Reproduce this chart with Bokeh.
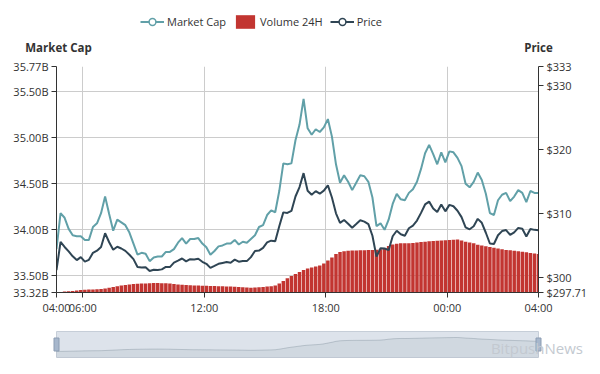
from bokeh.plotting import figure
from bokeh.models import (Range1d, LinearAxis, FixedTicker, CustomJSTickFormatter,
                          Legend, LegendItem, Label, ColumnDataSource)
from bokeh.layouts import column
from bokeh.embed import file_html
from bokeh.resources import INLINE

# ---- data ----
# time stamps: hours of day, 12-minute steps from 04:42 to 04:30 next day
START_H = 4.7
STEP_H = 0.2
hours = [round(START_H + STEP_H * i, 2) for i in range(120)]

market_cap_b = [
    33.79, 34.18, 34.13, 34.01, 33.94, 33.93, 33.93, 33.89, 33.89, 34.03,
    34.07, 34.18, 34.36, 34.17, 33.99, 34.11, 34.08, 34.05, 33.97, 33.85,
    33.73, 33.75, 33.74, 33.66, 33.70, 33.71, 33.71, 33.76, 33.76, 33.79,
    33.86, 33.91, 33.85, 33.90, 33.90, 33.91, 33.85, 33.81, 33.73, 33.77,
    33.82, 33.83, 33.85, 33.85, 33.89, 33.84, 33.87, 33.86, 33.90, 33.94,
    34.03, 34.05, 34.16, 34.21, 34.19, 34.42, 34.72, 34.71, 34.72, 34.97,
    35.14, 35.42, 35.10, 35.03, 35.09, 35.06, 35.11, 35.20, 35.01, 34.71,
    34.51, 34.59, 34.52, 34.43, 34.51, 34.59, 34.58, 34.52, 34.35, 34.04,
    34.07, 34.00, 34.11, 34.28, 34.39, 34.33, 34.32, 34.40, 34.44, 34.52,
    34.66, 34.83, 34.92, 34.82, 34.71, 34.84, 34.73, 34.85, 34.84, 34.78,
    34.69, 34.50, 34.46, 34.52, 34.62, 34.54, 34.39, 34.18, 34.16, 34.32,
    34.38, 34.40, 34.31, 34.36, 34.43, 34.40, 34.30, 34.42, 34.40, 34.40,
]

price_usd = [
    301.21, 305.61, 304.82, 304.12, 303.36, 302.77, 303.23, 302.53, 302.81, 303.90,
    304.24, 304.82, 306.96, 305.56, 304.38, 304.85, 304.58, 304.21, 303.61, 302.92,
    301.68, 301.62, 301.65, 301.06, 301.25, 301.21, 301.32, 301.71, 301.68, 302.38,
    302.69, 303.02, 302.57, 302.92, 302.88, 302.98, 302.50, 302.19, 301.56, 301.87,
    302.19, 302.33, 302.46, 302.36, 302.84, 302.52, 302.63, 302.61, 303.23, 304.20,
    304.26, 304.69, 305.53, 305.80, 305.72, 308.05, 310.22, 310.13, 310.45, 312.70,
    314.18, 316.35, 313.59, 312.97, 313.54, 313.14, 313.61, 314.44, 312.55, 310.07,
    308.59, 309.04, 308.45, 307.81, 308.39, 308.98, 308.78, 308.39, 306.57, 303.31,
    304.63, 304.58, 304.32, 306.49, 307.35, 306.80, 306.57, 307.74, 308.16, 308.95,
    310.14, 311.46, 311.90, 310.84, 310.27, 311.46, 310.38, 311.39, 311.18, 310.48,
    309.48, 307.89, 307.58, 308.05, 309.21, 308.59, 307.04, 305.36, 305.28, 306.65,
    307.30, 307.46, 306.70, 307.11, 307.80, 307.67, 306.46, 307.64, 307.49, 307.43,
]

volume_24h_b = [
    0.06, 0.12, 0.20, 0.26, 0.32, 0.40, 0.48, 0.54, 0.58, 0.62,
    0.64, 0.68, 0.80, 0.96, 1.10, 1.24, 1.38, 1.50, 1.60, 1.68,
    1.74, 1.78, 1.82, 1.86, 1.88, 1.88, 1.86, 1.84, 1.78, 1.70,
    1.62, 1.56, 1.50, 1.44, 1.40, 1.38, 1.36, 1.34, 1.32, 1.28,
    1.26, 1.24, 1.20, 1.18, 1.16, 1.12, 1.06, 1.00, 0.96, 0.98,
    1.04, 1.12, 1.20, 1.26, 1.40, 1.80, 2.30, 2.86, 3.30, 3.70,
    4.10, 4.50, 4.80, 5.00, 5.20, 5.40, 5.80, 6.40, 7.00, 7.70,
    8.10, 8.26, 8.36, 8.40, 8.42, 8.44, 8.46, 8.48, 8.50, 8.54,
    8.64, 8.90, 9.30, 9.60, 9.76, 9.86, 9.84, 9.86, 9.92, 10.00,
    10.08, 10.16, 10.24, 10.30, 10.34, 10.40, 10.46, 10.50, 10.56, 10.60,
    10.40, 10.16, 10.00, 9.84, 9.56, 9.40, 9.26, 9.10, 8.96, 8.80,
    8.64, 8.52, 8.44, 8.34, 8.24, 8.16, 8.06, 7.92, 7.80, 7.68,
]

x_ticks = [hours[0], 6, 12, 18, 24, hours[-1]]
cap_ticks = [33.32, 33.50, 34.00, 34.50, 35.00, 35.50, 35.77]
price_ticks = [297.71, 300, 310, 320, 330, 333]

# ---- layout / styling ----
FONT = "Open Sans"
FS = "11px"
TXT = "#333333"
C_CAP = "#61a0a8"
C_VOL = "#c23531"
C_PRICE = "#2f4554"

W = 592
LEFT, RIGHT = 56, 54
FRAME_W = W - LEFT - RIGHT
TOP_H = 58          # header strip (legend + axis names)
MAIN_H = 262
SLIDER_H = 46
NAN = float("nan")

src = ColumnDataSource(dict(t=hours, cap=market_cap_b, price=price_usd, vol=volume_24h_b))

# ---- header strip: legend and axis names ----
p0 = figure(width=W, height=TOP_H, output_backend="svg", toolbar_location=None,
            x_range=Range1d(0, W), y_range=Range1d(0, TOP_H), frame_align=False,
            min_border_left=0, min_border_right=0, min_border_top=0, min_border_bottom=0)
p0.axis.visible = False
p0.grid.visible = False
p0.outline_line_color = None
p0.border_fill_color = "white"
# legend proxies (a single NaN point each, so nothing is drawn in the strip)
l_cap = p0.line(x=[NAN], y=[NAN], line_color=C_CAP, line_width=2)
s_cap = p0.scatter(x=[NAN], y=[NAN], marker="circle", fill_color="white",
                   line_color=C_CAP, line_width=1.5)
b_vol = p0.vbar(x=[NAN], top=[NAN], width=1, fill_color=C_VOL, line_color=None)
l_pr = p0.line(x=[NAN], y=[NAN], line_color=C_PRICE, line_width=2)
s_pr = p0.scatter(x=[NAN], y=[NAN], marker="circle", fill_color="white",
                  line_color=C_PRICE, line_width=1.5)
legend = Legend(items=[
    LegendItem(label="Market Cap", renderers=[l_cap, s_cap]),
    LegendItem(label="Volume 24H", renderers=[b_vol]),
    LegendItem(label="Price", renderers=[l_pr, s_pr]),
], orientation="horizontal", location=(140, TOP_H - 30),
    glyph_width=24, glyph_height=17, label_standoff=3, spacing=7,
    padding=0, margin=0, background_fill_alpha=0, border_line_color=None,
    label_text_font=FONT, label_text_font_size=FS, label_text_color=TXT)
p0.add_layout(legend)
for txt, xs in (("Market Cap", LEFT + 2), ("Price", LEFT + FRAME_W)):
    p0.add_layout(Label(x=xs, y=TOP_H - 47, text=txt,
                        text_align="center", text_baseline="middle",
                        text_font=FONT, text_font_size="11.5px",
                        text_font_style="bold", text_color=TXT))

# ---- main chart ----
p = figure(width=W, height=MAIN_H, output_backend="svg", toolbar_location=None,
           x_range=Range1d(hours[0], hours[-1]),
           y_range=Range1d(cap_ticks[0], cap_ticks[-1]), frame_align=False,
           min_border_left=LEFT, min_border_right=RIGHT, min_border_top=8, min_border_bottom=28)
p.extra_y_ranges = {"price": Range1d(price_ticks[0], price_ticks[-1]),
                    "vol": Range1d(0, 45.2)}
p.outline_line_color = None
p.background_fill_color = "white"
p.border_fill_color = "white"

xa = p.xaxis[0]
xa.ticker = FixedTicker(ticks=x_ticks)
xa.formatter = CustomJSTickFormatter(code="""
const h = Math.floor(tick + 1e-6) % 24;
return (h < 10 ? '0' : '') + h + ':00';""")
ya = p.yaxis[0]
ya.ticker = FixedTicker(ticks=cap_ticks)
ya.formatter = CustomJSTickFormatter(code="return tick.toFixed(2) + 'B';")
ra = LinearAxis(y_range_name="price")
ra.ticker = FixedTicker(ticks=price_ticks)
ra.formatter = CustomJSTickFormatter(code="""
const r = Math.round(tick * 100) / 100;
return '$' + (Math.abs(r - Math.round(r)) < 1e-9 ? Math.round(r).toString() : r.toFixed(2));""")
p.add_layout(ra, "right")

for ax in (xa, ya, ra):
    ax.axis_line_color = TXT
    ax.axis_line_width = 1
    ax.major_tick_line_color = TXT
    ax.major_tick_out = 5
    ax.major_tick_in = 0
    ax.minor_tick_line_color = None
    ax.major_label_text_font = FONT
    ax.major_label_text_font_size = FS
    ax.major_label_text_color = TXT
    ax.major_label_standoff = 3
xa.major_label_standoff = 2

p.xgrid.ticker = FixedTicker(ticks=[6, 12, 18, 24])
p.ygrid.ticker = FixedTicker(ticks=cap_ticks[1:-1])
p.xgrid.grid_line_color = "#cccccc"
p.ygrid.grid_line_color = "#cccccc"

p.vbar(x="t", top="vol", bottom=0, width=STEP_H * 0.86, source=src,
       y_range_name="vol", fill_color=C_VOL, line_color=None)
p.line("t", "cap", source=src, line_color=C_CAP, line_width=2)
p.line("t", "price", source=src, y_range_name="price", line_color=C_PRICE, line_width=2)

# ---- data-zoom slider look-alike (frame spans the full width) ----
px_per_h = FRAME_W / (hours[-1] - hours[0])
p2 = figure(width=W, height=SLIDER_H, output_backend="svg", toolbar_location=None,
            x_range=Range1d(hours[0] - LEFT / px_per_h, hours[-1] + RIGHT / px_per_h),
            y_range=Range1d(0, SLIDER_H), frame_align=False,
            min_border_left=0, min_border_right=0, min_border_top=0, min_border_bottom=0)
SL_BOT, SL_TOP = 9, 35          # slider box, px from the bottom of this strip
VOL_FLOOR, VOL_CEIL = -4.45, 15.1
vpp = (VOL_CEIL - VOL_FLOOR) / (SL_TOP - SL_BOT)
p2.extra_y_ranges = {"vol": Range1d(VOL_FLOOR - SL_BOT * vpp,
                                    VOL_CEIL + (SLIDER_H - SL_TOP) * vpp)}
p2.axis.visible = False
p2.grid.visible = False
p2.outline_line_color = None
p2.background_fill_color = "white"
p2.border_fill_color = "white"
p2.quad(left=hours[0], right=hours[-1], bottom=SL_BOT, top=SL_TOP,
        fill_color="#dde3eb", line_color="#c6ced8")
p2.varea(x="t", y1=VOL_FLOOR, y2="vol", source=src, y_range_name="vol",
         fill_color="#2f4554", fill_alpha=0.07)
p2.line("t", "vol", source=src, y_range_name="vol",
        line_color="#2f4554", line_alpha=0.25, line_width=0.8)
p2.rect(x=[hours[0], hours[-1]], y=[(SL_BOT + SL_TOP) / 2] * 2, width=5, height=13,
        width_units="screen", height_units="screen",
        fill_color="#a7b7cc", line_color="#8c9db3")
p2.add_layout(Label(x=hours[-1] - 2.35, y=SLIDER_H - 347 + 320, text="BitpushNews",
                    text_align="left", text_baseline="middle", text_font=FONT,
                    text_font_size="15px", text_color="#c3c9d0"))

layout = column(p0, p, p2)
open("out.html", "w").write(file_html(layout, INLINE))
